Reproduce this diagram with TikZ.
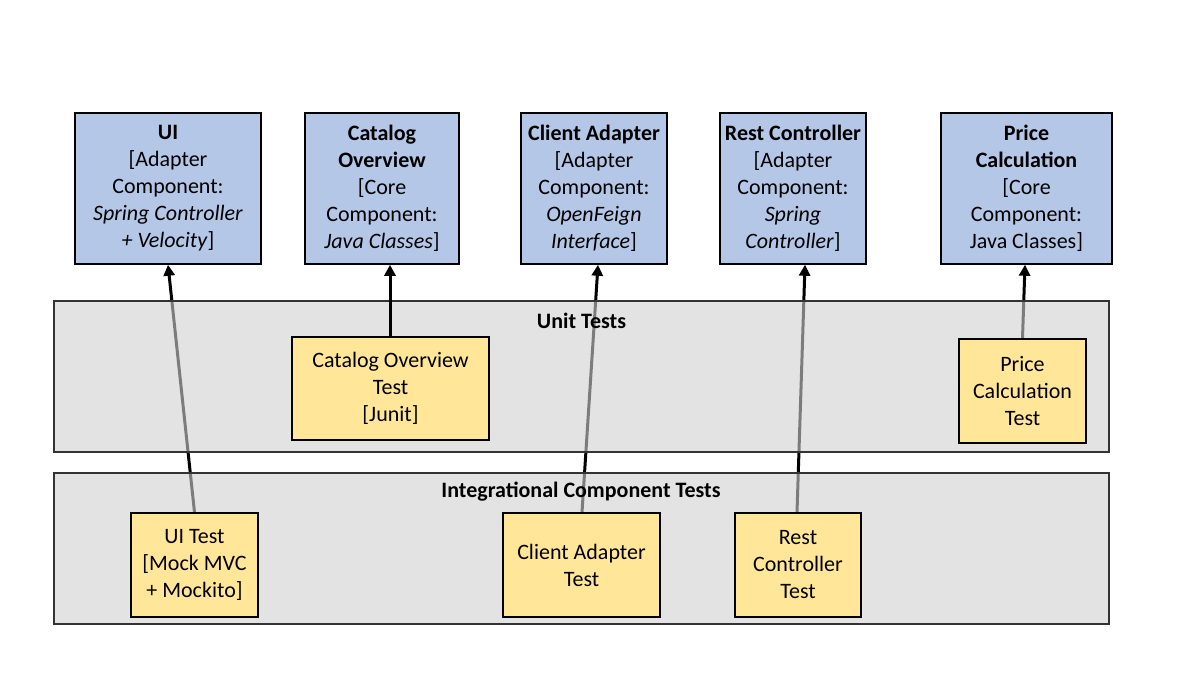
\documentclass[tikz,border=0pt]{standalone}
\usepackage{fontspec}
\setmainfont{Carlito}
\usetikzlibrary{arrows.meta}
\pgfdeclarelayer{lines}
\pgfdeclarelayer{bands}
\pgfsetlayers{lines,bands,main}
\definecolor{bluebox}{RGB}{180,199,231}
\definecolor{yellowbox}{RGB}{255,230,153}
\definecolor{bandfill}{RGB}{208,208,208}
\tikzset{
  comp/.style={draw=black, line width=0.75pt, fill=bluebox, inner sep=0pt, align=center,
    minimum height=75.5pt, font=\fontsize{11pt}{13.5pt}\selectfont},
  testbox/.style={draw=black, line width=0.75pt, fill=yellowbox, inner sep=0pt, align=center,
    minimum height=52pt, font=\fontsize{11pt}{13.5pt}\selectfont},
  band/.style={draw=black!80, line width=0.6pt, fill=bandfill, fill opacity=0.6, draw opacity=1,
    minimum width=527.5pt, minimum height=75.5pt, inner sep=0pt},
  bandlabel/.style={font=\fontsize{11pt}{13.5pt}\selectfont\bfseries, inner sep=0pt},
  conn/.style={line width=1.5pt, -{Triangle[length=5.5pt,width=5.5pt]}}
}
\begin{document}
\begin{tikzpicture}[x=0.5pt,y=-0.5pt]
\useasboundingbox (0,0) rectangle (1200,675);
% component boxes
\node[comp, minimum width=93pt] (ui) at (168,188.5)
  {\textbf{UI}\\{[}Adapter\\Component:\\\textit{Spring Controller}\\\textit{+ Velocity}]};
\node[comp, minimum width=77pt] (co) at (382,188.5)
  {\textbf{Catalog}\\\textbf{Overview}\\{[}Core\\Component:\\\textit{Java Classes}]};
\node[comp, minimum width=73pt] (ca) at (594,188.5)
  {\textbf{Client Adapter}\\{[}Adapter\\Component:\\\textit{OpenFeign}\\\textit{Interface}]};
\node[comp, minimum width=73pt] (rc) at (793,188.5)
  {\textbf{Rest Controller}\\{[}Adapter\\Component:\\\textit{Spring}\\\textit{Controller}]};
\node[comp, minimum width=85.5pt] (pc) at (1026.5,188.5)
  {\textbf{Price}\\\textbf{Calculation}\\{[}Core\\Component:\\Java Classes]};
% test boxes
\node[testbox, minimum width=98.5pt, minimum height=51.5pt] (cot) at (390.5,388.5)
  {Catalog Overview\\Test\\{[}Junit]};
\node[testbox, minimum width=63.5pt] (pct) at (1022.5,391)
  {Price\\Calculation\\Test};
\node[testbox, minimum width=63.5pt] (uit) at (194.5,565)
  {UI Test\\{[}Mock MVC\\+ Mockito]};
\node[testbox, minimum width=78.5pt] (cat) at (581.5,565)
  {Client Adapter\\Test};
\node[testbox, minimum width=63pt] (rct) at (798,565)
  {Rest\\Controller\\Test};
% connectors passing under the bands
\begin{pgfonlayer}{lines}
\draw[conn] (uit.north) -- (ui.south);
\draw[conn] ([xshift=0.25pt]cat.north) -- ([xshift=2pt]ca.south);
\draw[conn] ([xshift=-0.5pt]rct.north) -- ([xshift=6pt]rc.south);
\draw[conn] (pct.north) -- ([xshift=-0.75pt]pc.south);
\end{pgfonlayer}
% bands
\begin{pgfonlayer}{bands}
\node[band] (unit) at (581.5,376.5) {};
\node[band] (integ) at (581.5,548.5) {};
\end{pgfonlayer}
\node[bandlabel] (unitlbl) at (581.5,321) {Unit Tests};
\node[bandlabel] (integlbl) at (581,492) {Integrational Component Tests};
\draw[conn] ([xshift=-0.25pt]cot.north) -- ([xshift=4pt]co.south);
\end{tikzpicture}
\end{document}
